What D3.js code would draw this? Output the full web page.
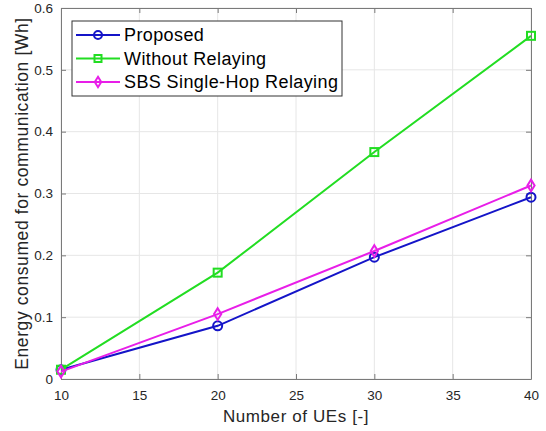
<!DOCTYPE html>
<html>
<head>
<meta charset="utf-8">
<script src="https://cdn.jsdelivr.net/npm/d3@7"></script>
<style>
  body { margin: 0; background: #fff; }
  text { font-family: "Liberation Sans", Arial, sans-serif; }
</style>
</head>
<body>
<svg id="chart" width="546" height="431"></svg>
<script>
const ues = [10, 20, 30, 40];
const proposed = [0.015, 0.086, 0.197, 0.294];
const withoutRelay = [0.015, 0.172, 0.367, 0.555];
const sbsSingleHop = [0.012, 0.105, 0.207, 0.313];
const xTicks = [10, 15, 20, 25, 30, 35, 40];
const yTicks = [0, 0.1, 0.2, 0.3, 0.4, 0.5, 0.6];

const series = [
    { name: "Proposed", values: proposed, color: "#1414c8", marker: "circle" },
    { name: "Without Relaying", values: withoutRelay, color: "#22dd22", marker: "square" },
    { name: "SBS Single-Hop Relaying", values: sbsSingleHop, color: "#e81ee8", marker: "diamond" }
];

const svg = d3.select("#chart");
const margin = { left: 61, right: 15, top: 8, bottom: 52 };
const width = 546, height = 431;

const x = d3.scaleLinear().domain([10, 40]).range([margin.left, width - margin.right]);
const y = d3.scaleLinear().domain([0, 0.6]).range([height - margin.bottom, margin.top]);

// grid
const grid = svg.append("g").attr("stroke", "#e6e6e6").attr("stroke-width", 1);
grid.selectAll(".gx").data(xTicks).enter().append("line")
    .attr("x1", d => x(d)).attr("x2", d => x(d))
    .attr("y1", y(0)).attr("y2", y(0.6));
grid.selectAll(".gy").data(yTicks).enter().append("line")
    .attr("x1", x(10)).attr("x2", x(40))
    .attr("y1", d => y(d)).attr("y2", d => y(d));

// axes
const axisColor = "#7a7a7a";
const xAxis = svg.append("g").attr("transform", "translate(0," + y(0) + ")")
    .call(d3.axisBottom(x).tickValues(xTicks).tickSizeInner(-5).tickSizeOuter(0).tickPadding(11));
const xTop = svg.append("g").attr("transform", "translate(0," + y(0.6) + ")")
    .call(d3.axisTop(x).tickValues(xTicks).tickSizeInner(-5).tickSizeOuter(0).tickFormat(""));
const yAxis = svg.append("g").attr("transform", "translate(" + x(10) + ",0)")
    .call(d3.axisLeft(y).tickValues(yTicks).tickSizeInner(-5).tickSizeOuter(0).tickPadding(8).tickFormat(d3.format("~g")));
const yRight = svg.append("g").attr("transform", "translate(" + x(40) + ",0)")
    .call(d3.axisRight(y).tickValues(yTicks).tickSizeInner(-5).tickSizeOuter(0).tickFormat(""));

[xAxis, xTop, yAxis, yRight].forEach(g => {
    g.select(".domain").attr("stroke", axisColor).attr("stroke-width", 1);
    g.selectAll(".tick line").attr("stroke", axisColor);
    g.selectAll(".tick text").attr("fill", "#262626").style("font-size", "13.5px")
        .style("font-family", "'Liberation Sans', Arial, sans-serif");
});

// lines
const line = d3.line().x((d, i) => x(ues[i])).y(d => y(d));

function drawMarker(g, type, color, size) {
    if (type === "circle") {
        g.append("circle").attr("r", size).attr("fill", "none").attr("stroke", color).attr("stroke-width", 2);
    } else if (type === "square") {
        g.append("rect").attr("x", -size).attr("y", -size).attr("width", size * 2).attr("height", size * 2)
            .attr("fill", "none").attr("stroke", color).attr("stroke-width", 2);
    } else {
        g.append("path").attr("d", "M0," + (-size * 1.3) + "L" + size * 0.8 + ",0L0," + (size * 1.3) + "L" + (-size * 0.8) + ",0Z")
            .attr("fill", "none").attr("stroke", color).attr("stroke-width", 2);
    }
}

series.forEach(s => {
    svg.append("path").datum(s.values)
        .attr("fill", "none").attr("stroke", s.color).attr("stroke-width", 2)
        .attr("d", line);
    s.values.forEach((v, i) => {
        const g = svg.append("g").attr("transform", "translate(" + x(ues[i]) + "," + y(v) + ")");
        drawMarker(g, s.marker, s.color, s.marker === "square" ? 4 : 4.5);
    });
});

// legend
const legend = svg.append("g").attr("transform", "translate(72,21)");
legend.append("rect").attr("width", 270).attr("height", 75)
    .attr("fill", "#fff").attr("stroke", "#333").attr("stroke-width", 1);
series.forEach((s, i) => {
    const ly = 14 + i * 23.5;
    legend.append("line").attr("x1", 4).attr("x2", 48).attr("y1", ly).attr("y2", ly)
        .attr("stroke", s.color).attr("stroke-width", 2);
    const g = legend.append("g").attr("transform", "translate(26," + ly + ")");
    drawMarker(g, s.marker, s.color, s.marker === "square" ? 3.5 : 4);
    legend.append("text").attr("x", 52).attr("y", ly).attr("dy", "0.36em")
        .style("font-size", "18px").style("letter-spacing", "0.4px")
        .attr("fill", "#000").text(s.name);
});

// axis labels
svg.append("text").attr("x", x(25)).attr("y", 422).attr("text-anchor", "middle")
    .style("font-size", "17px").style("letter-spacing", "0.6px")
    .attr("fill", "#262626").text("Number of UEs [-]");
svg.append("text").attr("transform", "translate(28," + y(0.3) + ") rotate(-90)")
    .attr("text-anchor", "middle").style("font-size", "17.5px").style("letter-spacing", "0.6px")
    .attr("fill", "#262626")
    .text("Energy consumed for communication [Wh]");
</script>
</body>
</html>
